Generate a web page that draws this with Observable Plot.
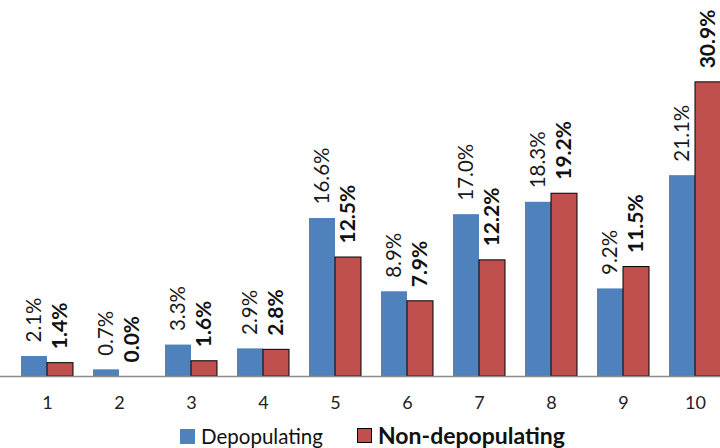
<!DOCTYPE html>
<html>
<head>
<meta charset="utf-8">
<script src="https://cdn.jsdelivr.net/npm/d3@7"></script>
<script src="https://cdn.jsdelivr.net/npm/@observablehq/plot@0.6"></script>
<style>
  html, body { margin: 0; padding: 0; background: #fff; }
  body { width: 720px; height: 448px; overflow: hidden; font-family: Lato, "Open Sans", sans-serif; }
  #legend { position: relative; height: 28px; }
  .item { position: absolute; display: flex; align-items: center; color: #111; line-height: 1; }
  .sw { width: 15px; height: 15px; margin-right: 6px; box-sizing: border-box; }
</style>
</head>
<body>
<div id="chart"></div>
<div id="legend">
  <div class="item" style="left:180px; top:6px; font-size:20.5px;"><span class="sw" style="background:#4F81BD"></span>Depopulating</div>
  <div class="item" style="left:357px; top:4px; font-size:23px; font-weight:bold;"><span class="sw" style="background:#C0504D; border:1px solid #000;"></span>Non-depopulating</div>
</div>
<script>
const categories = ["1","2","3","4","5","6","7","8","9","10"];
const depopulating = [2.1, 0.7, 3.3, 2.9, 16.6, 8.9, 17.0, 18.3, 9.2, 21.1];
const nonDepopulating = [1.4, 0.0, 1.6, 2.8, 12.5, 7.9, 12.2, 19.2, 11.5, 30.9];

const blue = "#4F81BD", red = "#C0504D";
const dataA = categories.map((c, i) => ({cat: c, value: depopulating[i]}));
const dataB = categories.map((c, i) => ({cat: c, value: nonDepopulating[i]}));
const fmt = d => d.value.toFixed(1) + "%";
const half = 26;

const chart = Plot.plot({
  width: 720,
  height: 420,
  marginTop: 0,
  marginLeft: 0,
  marginRight: 0,
  marginBottom: 44,
  style: {fontFamily: "Lato, 'Open Sans', sans-serif", background: "#fff"},
  x: {domain: categories, range: [10, 731], paddingInner: 0.28, paddingOuter: 0.14, label: null},
  y: {domain: [0, 39.5], axis: null},
  marks: [
    Plot.barY(dataA, {x: "cat", y: "value", fill: blue, insetRight: half}),
    Plot.barY(dataB, {x: "cat", y: "value", fill: red, stroke: "#000", strokeWidth: 1, insetLeft: half}),
    Plot.ruleY([0], {stroke: "#8c8c8c", strokeWidth: 1.5}),
    Plot.text(dataA, {x: "cat", y: "value", text: fmt, rotate: -90, textAnchor: "start", lineAnchor: "middle", dx: -13, dy: -14, fontSize: 20.5, fill: "#1a1a1a"}),
    Plot.text(dataB, {x: "cat", y: "value", text: fmt, rotate: -90, textAnchor: "start", lineAnchor: "middle", dx: 13, dy: -14, fontSize: 21, fontWeight: "bold", fill: "#111"}),
    Plot.axisX({tickSize: 0, tickPadding: 20, fontSize: 18, fill: "#222", label: null})
  ]
});
document.getElementById("chart").appendChild(chart);
</script>
</body>
</html>
